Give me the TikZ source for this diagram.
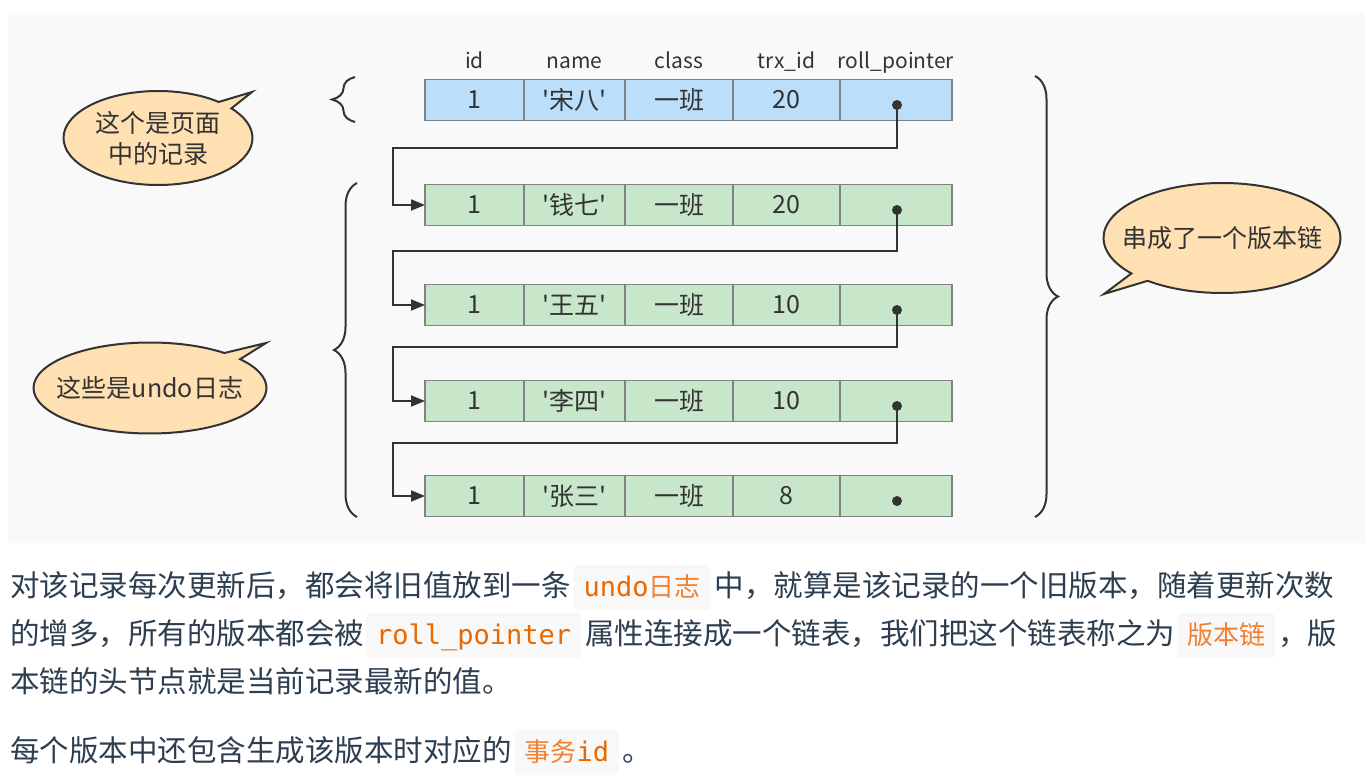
\documentclass[tikz,border=0pt]{standalone}
\usepackage{fontspec}
\newfontfamily\cjk{Noto Sans CJK SC}[Ligatures=TeXOff]
\newfontfamily\codefont{DejaVu Sans Mono}
\usepackage{tikz}
\usetikzlibrary{positioning,arrows.meta,shapes.callouts,shapes.geometric,decorations.pathreplacing}
\definecolor{ink}{RGB}{51,51,51}
\definecolor{panel}{RGB}{249,249,249}
\definecolor{cellline}{RGB}{130,130,130}
\definecolor{rowblue}{RGB}{187,222,251}
\definecolor{rowgreen}{RGB}{200,230,201}
\definecolor{bubble}{RGB}{255,224,178}
\definecolor{bodytext}{RGB}{44,62,80}
\definecolor{codebg}{RGB}{248,248,248}
\definecolor{codeorange}{RGB}{233,105,0}
\definecolor{codecjk}{RGB}{240,128,50}

\begin{document}
\begin{tikzpicture}[x=1pt, y=-1pt, >={Triangle[length=14pt,width=11pt]},
    cell/.style={draw=cellline, line width=1.2pt, minimum height=41, inner sep=0, outer sep=0,
        text=ink, font=\cjk\fontsize{25}{25}\selectfont},
    head/.style={anchor=base, inner sep=0, text=ink, font=\cjk\fontsize{21}{21}\selectfont},
    link/.style={draw=ink, line width=2pt},
    curly/.style={draw=ink, line width=2pt, decorate, decoration={brace, amplitude=23pt}},
    note/.style={ellipse callout, draw=ink, fill=bubble, line width=2pt, inner sep=0, align=center,
        callout pointer arc=11, text=ink, font=\cjk\fontsize{25}{31}\selectfont},
    para/.style={inner sep=0, outer sep=0, text height=24pt, text depth=6pt, text=bodytext,
        font=\cjk\fontsize{29.5}{30}\selectfont},
    code/.style={fill=codebg, rounded corners=4pt, inner xsep=10pt, inner ysep=7.5pt, outer sep=0,
        text height=24pt, text depth=6pt, text=codeorange, font=\codefont\fontsize{27}{27}\selectfont}]
    \useasboundingbox (0,0) rectangle (1368,783);
    \fill[white] (0,0) rectangle (1368,783);
    \fill[panel] (8,13) rectangle (1365,543);

    % records
    \foreach \i/\y/\who/\trx/\bg in {1/100/宋八/20/rowblue, 2/205/钱七/20/rowgreen,
        3/305/王五/10/rowgreen, 4/401/李四/10/rowgreen, 5/496/张三/8/rowgreen} {
        \node[cell, fill=\bg, minimum width=99, anchor=west] (r\i-1) at (425,\y) {1};
        \node[cell, fill=\bg, minimum width=101, right=0pt of r\i-1] (r\i-2) {'\who'};
        \node[cell, fill=\bg, minimum width=108, right=0pt of r\i-2] (r\i-3) {一班};
        \node[cell, fill=\bg, minimum width=107, right=0pt of r\i-3] (r\i-4) {\trx};
        \node[cell, fill=\bg, minimum width=112, right=0pt of r\i-4] (r\i-5) {};
        \coordinate (p\i) at (897,{\y+5});
        \fill[ink] (p\i) circle (5);
    }

    % column names
    \node[head] at (r1-1 |- 0,69) {id};
    \node[head] at (r1-2 |- 0,69) {name};
    \node[head] at (r1-3 |- 0,69) {class};
    \node[head] at (r1-4 |- 0,69) {trx\_id};
    \node[head] at (r1-5 |- 0,69) {roll\_pointer};

    % roll_pointer chain
    \foreach \i/\j/\m in {1/2/148, 2/3/251, 3/4/347, 4/5/443} {
        \coordinate (k\i) at (393,\m);
        \draw[link, ->] (p\i) |- (k\i) |- (r\j-1.west);
    }

    % braces
    \draw[curly] (355,122) -- (355,77);
    \draw[curly] (357,517) -- (357,183);
    \draw[curly] (1035,76) -- (1035,517);

    % callouts
    \node[note, minimum width=189, minimum height=94, callout absolute pointer={(252,92)}]
        (page) at (158,138) {这个是页面\\中的记录};
    \node[note, minimum width=233, minimum height=91, callout absolute pointer={(266,343)}]
        (undo) at (150,388) {\makebox[0pt]{这些是undo日志}};
    \node[note, minimum width=237, minimum height=110, callout absolute pointer={(1104,294)}]
        (chain) at (1222,238) {\makebox[0pt]{串成了一个版本链}};

    % text below
    \node[para, anchor=west] (l1a) at (10,587.5) {对该记录每次更新后，都会将旧值放到一条};
    \node[code, right=3pt of l1a] (l1b) {undo{\cjk\fontsize{26}{26}\selectfont\color{codecjk}日志}};
    \node[para, right=4pt of l1b] (l1c) {中，就算是该记录的一个旧版本，随着更新次数};

    \node[para, anchor=west] (l2a) at (10,635.5) {的增多，所有的版本都会被};
    \node[code, right=2pt of l2a] (l2b) {roll\_pointer};
    \node[para, right=4pt of l2b] (l2c) {属性连接成一个链表，我们把这个链表称之为};
    \node[code, right=2pt of l2c] (l2d) {{\cjk\fontsize{26}{26}\selectfont\color{codecjk}版本链}};
    \node[para, right=3pt of l2d] (l2e) {，版};

    \node[para, anchor=west] (l3a) at (10,683.5) {本链的头节点就是当前记录最新的值。};

    \node[para, anchor=west] (l4a) at (10,752.5) {每个版本中还包含生成该版本时对应的};
    \node[code, right=3pt of l4a] (l4b) {{\cjk\fontsize{26}{26}\selectfont\color{codecjk}事务}id};
    \node[para, right=3pt of l4b] (l4c) {。};
\end{tikzpicture}
\end{document}
